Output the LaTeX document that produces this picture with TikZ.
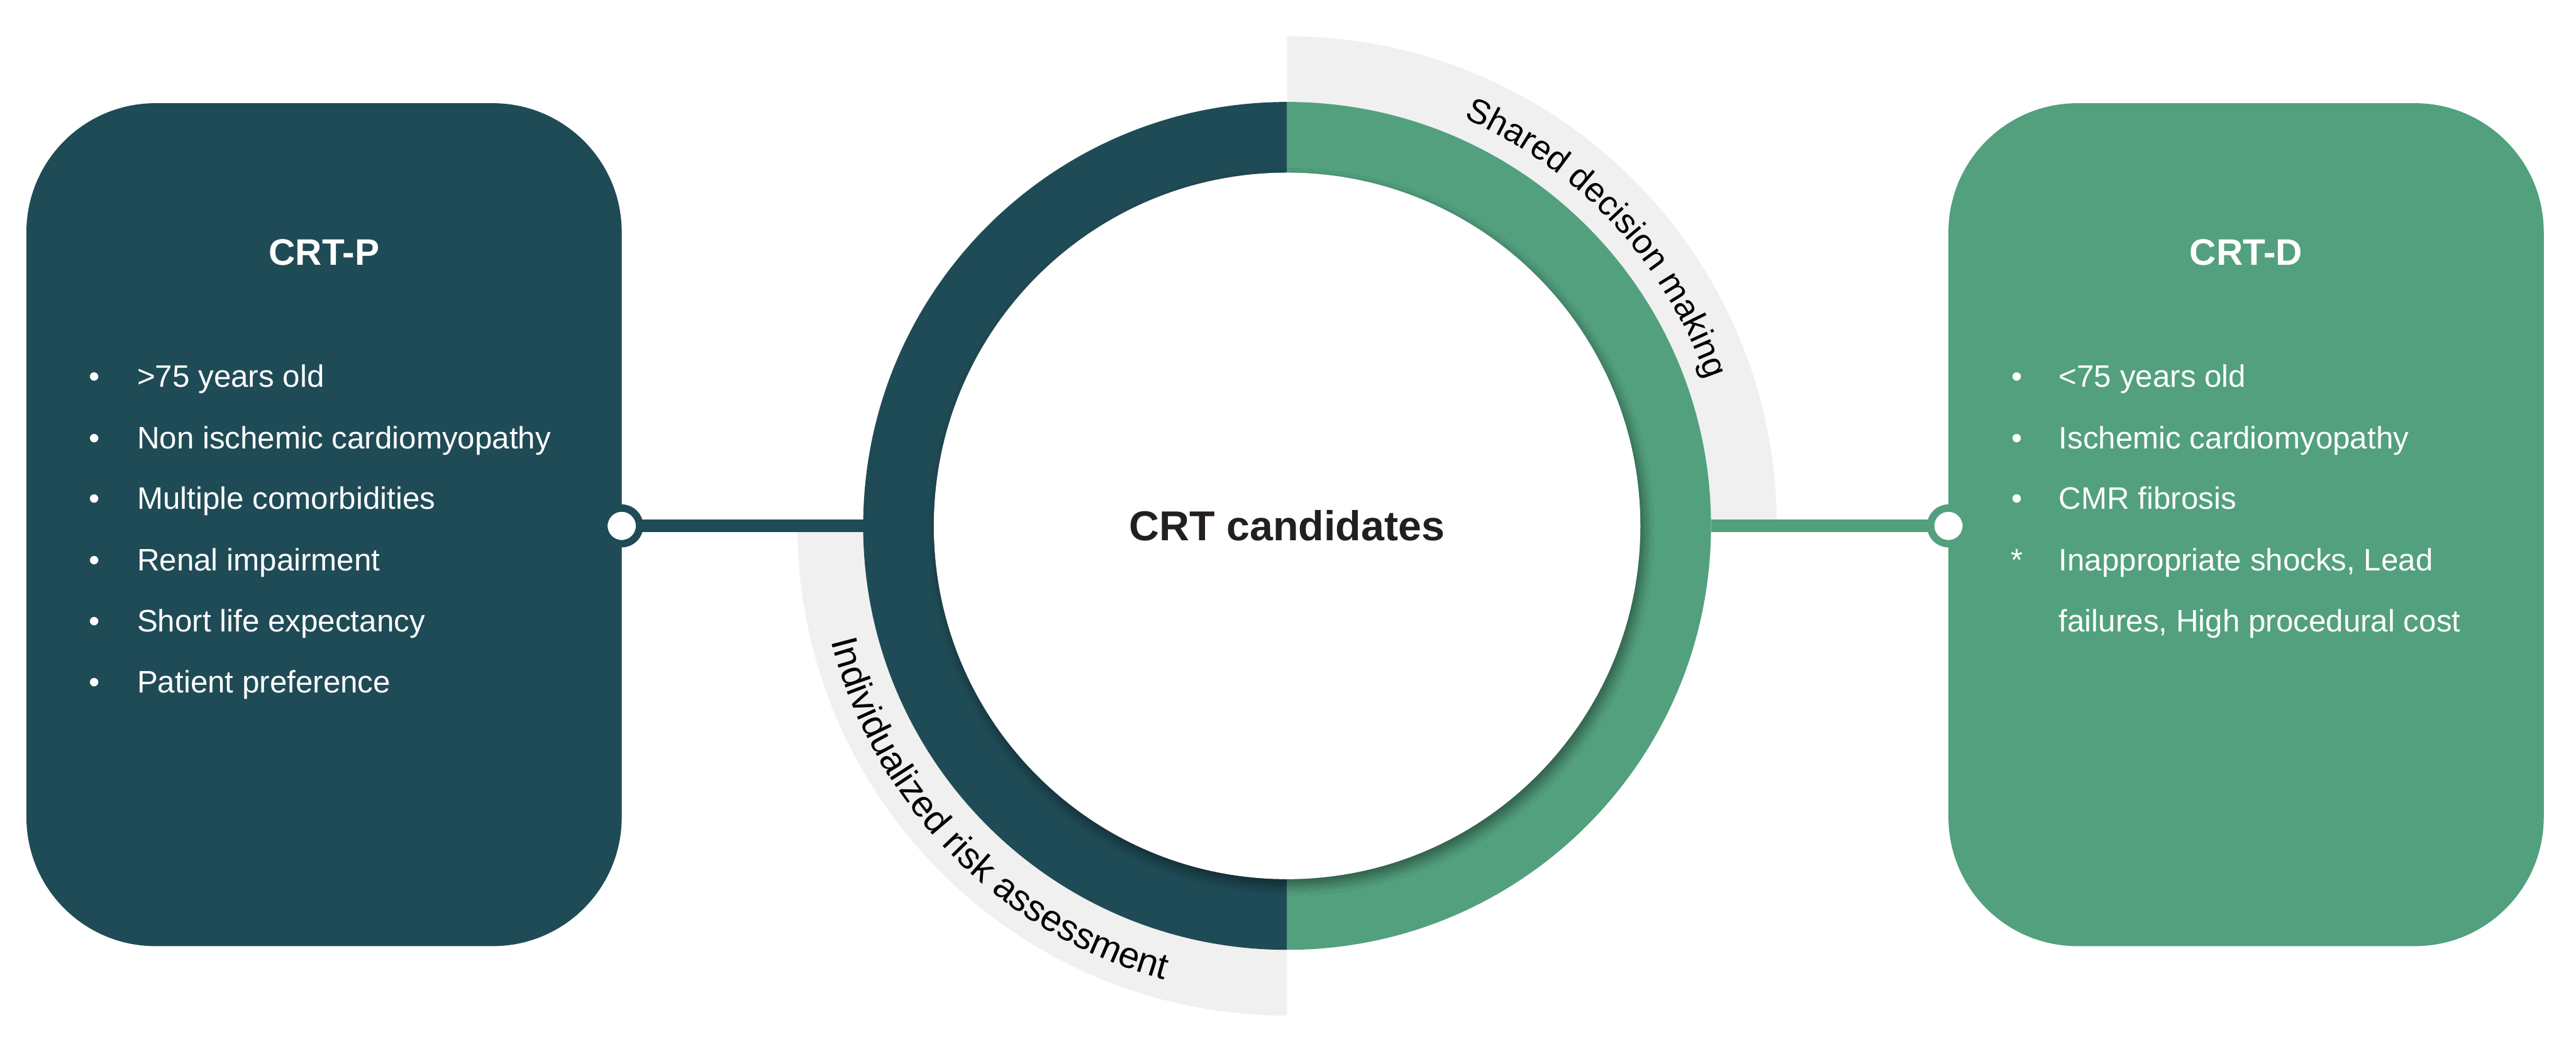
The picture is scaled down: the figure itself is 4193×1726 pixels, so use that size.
\documentclass[tikz,border=0pt]{standalone}
\usepackage{fontspec}
\setmainfont{Liberation Sans}
\usetikzlibrary{decorations.text,shadows.blur}
\definecolor{darkteal}{HTML}{1F4B56}
\definecolor{sage}{HTML}{52A07E}
\definecolor{bandgray}{HTML}{EFF0EF}
\definecolor{inktext}{HTML}{231F20}
\begin{document}
\begin{tikzpicture}[x=1pt,y=1pt,
  panel/.style={rounded corners=210pt, minimum width=969pt, minimum height=1372pt, inner sep=0pt, outer sep=0pt},
  paneltitle/.style={font=\fontsize{60}{70}\selectfont\bfseries, text=white, anchor=base, inner sep=0pt},
  item/.style={font=\fontsize{50.5}{60}\selectfont, text=white, anchor=base west, inner sep=0pt},
  bulletmark/.style={font=\fontsize{50.5}{60}\selectfont, text=white, anchor=base, inner sep=0pt},
  hub/.style={circle, fill=white, line width=12pt, minimum size=58pt, inner sep=0pt, outer sep=0pt},
  link/.style={line width=21pt},
]
\useasboundingbox (0,0) rectangle (4193,1726);
\fill[white] (0,0) rectangle (4193,1726);
\coordinate (c) at (2095,870);
% gray bands
\fill[bandgray] (c) -- ++(0:797pt) arc[start angle=0, end angle=90, radius=797pt] -- cycle;
\fill[bandgray] (c) -- ++(180:797pt) arc[start angle=180, end angle=270, radius=797pt] -- cycle;
% ring
\node[circle, minimum size=1380pt, inner sep=0pt, outer sep=0pt] (ring) at (c) {};
\fill[darkteal] (ring.north) arc[start angle=90, end angle=270, radius=690pt] -- cycle;
\fill[sage] (ring.south) arc[start angle=-90, end angle=90, radius=690pt] -- cycle;
\node[circle, fill=white, minimum size=1150pt, inner sep=0pt, outer sep=0pt,
      blur shadow={shadow xshift=6pt, shadow yshift=-10pt, shadow blur radius=16pt, shadow blur steps=12, shadow opacity=45},
      font=\fontsize{68}{80}\selectfont\bfseries, text=inktext] (core) at (c) {CRT candidates};
% arc labels
\begin{scope}[color=inktext, text=inktext]
\path[decorate, decoration={text along path, text align=center,
   text={|\fontsize{56}{64}\selectfont|Shared decision making}}]
   (c) ++(87.9:723pt) arc[start angle=87.9, end angle=-2.1, radius=723pt];
\path[decorate, decoration={text along path, text align=center,
   text={|\fontsize{60}{68}\selectfont|Individualized risk assessment}}]
   (c) ++(179.5:765pt) arc[start angle=179.5, end angle=269.5, radius=765pt];
\end{scope}
% panels
\node[panel, fill=darkteal] (lbox) at (527.5,872) {};
\node[panel, fill=sage] (rbox) at (3656,872) {};
\node[paneltitle] (ltitle) at (527.5,1295) {CRT-P};
\node[paneltitle] (rtitle) at (3656,1295) {CRT-D};
% left items
\node[bulletmark] (lb1) at (154,1096) {•};
\node[item] (lt1) at (223,1096) {>75 years old};
\node[bulletmark] (lb2) at (154,996) {•};
\node[item] (lt2) at (223,996) {Non ischemic cardiomyopathy};
\node[bulletmark] (lb3) at (154,897) {•};
\node[item] (lt3) at (223,897) {Multiple comorbidities};
\node[bulletmark] (lb4) at (154,797) {•};
\node[item] (lt4) at (223,797) {Renal impairment};
\node[bulletmark] (lb5) at (154,698) {•};
\node[item] (lt5) at (223,698) {Short life expectancy};
\node[bulletmark] (lb6) at (154,598) {•};
\node[item] (lt6) at (223,598) {Patient preference};
% right items
\node[bulletmark] (rb1) at (3283,1096) {•};
\node[item] (rt1) at (3351,1096) {<75 years old};
\node[bulletmark] (rb2) at (3283,996) {•};
\node[item] (rt2) at (3351,996) {Ischemic cardiomyopathy};
\node[bulletmark] (rb3) at (3283,897) {•};
\node[item] (rt3) at (3351,897) {CMR fibrosis};
\node[bulletmark] (rb4) at (3283,797) {*};
\node[item] (rt4) at (3351,797) {Inappropriate shocks, Lead};
\node[item] (rt5) at (3351,698) {failures, High procedural cost};
% connectors
\node[hub, draw=darkteal] (lhub) at (lbox.east |- c) {};
\node[hub, draw=sage] (rhub) at (rbox.west |- c) {};
\draw[link, darkteal] (lhub) -- (ring.west);
\draw[link, sage] (rhub) -- (ring.east);
\end{tikzpicture}
\end{document}
